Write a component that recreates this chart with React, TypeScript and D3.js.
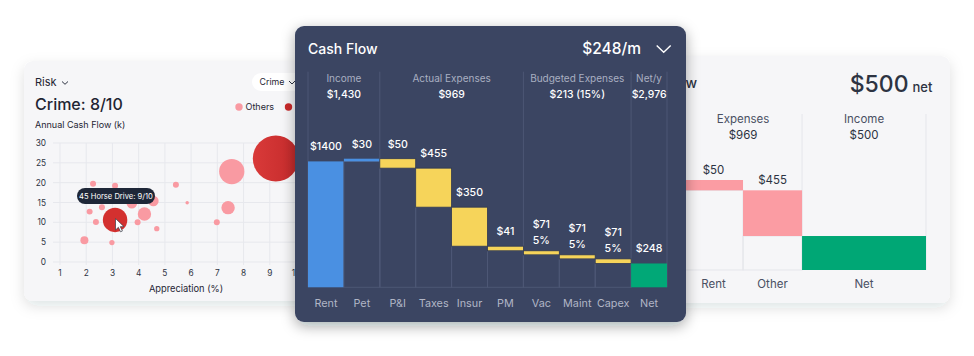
import React from "react";
import * as d3 from "d3";

const FONT = "Inter, 'Noto Sans', sans-serif";

// ---------- Left card: risk scatter ----------
const bubbleX = [9.23, 7.55, 7.41, 6.98, 5.85, 5.42, 4.56, 4.22, 3.74, 4.69, 3.96, 3.1, 3.1, 2.26, 2.6, 2.13, 2.37, 1.93, 2.98];
const bubbleY = [26.1, 22.8, 13.7, 10.0, 14.95, 19.5, 15.4, 12.1, 14.8, 8.4, 10.0, 10.6, 19.2, 19.7, 13.8, 12.7, 10.1, 5.5, 4.9];
const bubbleSize = [530, 160, 45, 9, 3, 9, 28, 45, 28, 7, 9, 150, 9, 9, 9, 9, 9, 16, 7];
const bubbleGroup = ["Selected", "Others", "Others", "Others", "Others", "Others", "Others", "Others", "Others", "Others", "Others", "Selected", "Others", "Others", "Others", "Others", "Others", "Others", "Others"];
const xTicks = [1, 2, 3, 4, 5, 6, 7, 8, 9, 10];
const yTicks = [0, 5, 10, 15, 20, 25, 30];

// ---------- Middle card: cash flow waterfall ----------
const flowCategories = ["Rent", "Pet", "P&I", "Taxes", "Insur", "PM", "Vac", "Maint", "Capex", "Net"];
const flowKinds = ["income", "income", "expense", "expense", "expense", "expense", "budget", "budget", "budget", "net"];
const flowBarValues = [1400, 30, 105, 434, 434, 51, 45, 45, 51, 265];
const flowLabels = ["$1400", "$30", "$50", "$455", "$350", "$41", "$71", "$71", "$71", "$248"];
const flowSubLabels = ["", "", "", "", "", "", "5%", "5%", "5%", ""];
const flowGroups = ["Income", "Actual Expenses", "Budgeted Expenses", "Net/y"];
const flowGroupValues = ["$1,430", "$969", "$213 (15%)", "$2,976"];
const flowGroupSpans = [2, 4, 3, 1];

// ---------- Right card: net waterfall ----------
const netCategories = ["Rent", "Other", "Net"];
const netKinds = ["expense", "expense", "net"];
const netColumnSpans = [1, 1, 2.1];
const netStartLevel = 1430;
const netBarValues = [164, 726, 540];
const netLabels = ["$50", "$455", ""];
const netGroups = ["Expenses", "Income"];
const netGroupValues = ["$969", "$500"];
const netGroupSpans = [2, 1];

type Bar = { cat: string; kind: string; lo: number; hi: number; label: string; sub: string };

function waterfall(cats: string[], kinds: string[], vals: number[], start: number, labels: string[], subs: string[]): Bar[] {
  let level = start;
  return cats.map((c, i) => {
    const v = vals[i];
    let lo = 0, hi = 0;
    if (kinds[i] === "income") { lo = level; hi = level + v; level = hi; }
    else if (kinds[i] === "net") { lo = 0; hi = v; }
    else { hi = level; lo = level - v; level = lo; }
    return { cat: c, kind: kinds[i], lo, hi, label: labels[i], sub: subs[i] };
  });
}

export default function App() {
  // left scales
  const sx = d3.scaleLinear().domain([1, 10]).range([60, 296]);
  const sy = d3.scaleLinear().domain([0, 30]).range([262, 143]);
  const sr = d3.scaleSqrt().domain([0, d3.max(bubbleSize) as number]).range([0, 23]);
  const bubbles = bubbleX.map((x, i) => ({ x, y: bubbleY[i], s: bubbleSize[i], g: bubbleGroup[i] }));

  // middle scales
  const fx = d3.scaleBand().domain(flowCategories).range([308, 667]).paddingInner(0).paddingOuter(0);
  const incomeTotal = d3.sum(flowBarValues.filter((_, i) => flowKinds[i] === "income"));
  const fy = d3.scaleLinear().domain([0, incomeTotal]).range([287.3, 158.7]);
  const flowBars = waterfall(flowCategories, flowKinds, flowBarValues, 0, flowLabels, flowSubLabels);
  const flowColor: Record<string, string> = { income: "#4a90e2", expense: "#f6d45a", budget: "#f6d45a", net: "#01a877" };
  const groupBounds: number[] = [];
  let acc = 0;
  groupBounds.push(fx(flowCategories[0]) as number);
  flowGroupSpans.forEach((s) => { acc += s; groupBounds.push((fx(flowCategories[acc - 1]) as number) + fx.bandwidth()); });

  // right scales
  const totalSpan = d3.sum(netColumnSpans);
  const nx = d3.scaleLinear().domain([0, totalSpan]).range([684, 926]);
  const ny = d3.scaleLinear().domain([0, netStartLevel]).range([270, 180]);
  const netBars = waterfall(netCategories, netKinds, netBarValues, netStartLevel, netLabels, ["", "", ""]);
  const netCum = d3.cumsum([0, ...netColumnSpans]);
  const netGroupCum = d3.cumsum([0, ...netGroupSpans]);

  const midLine = "#4d5775";
  const lightLine = "#e5e6eb";

  return (
    <svg width={974} height={356} style={{ position: "absolute", left: 0, top: 0, fontFamily: FONT }}>
      <defs>
        <filter id="lightShadow" x="-20%" y="-20%" width="140%" height="150%">
          <feDropShadow dx="0" dy="5" stdDeviation="7" floodColor="#1b2233" floodOpacity="0.13" />
        </filter>
        <filter id="darkShadow" x="-20%" y="-20%" width="140%" height="150%">
          <feDropShadow dx="0" dy="4" stdDeviation="7" floodColor="#0c1220" floodOpacity="0.35" />
        </filter>
        <linearGradient id="bigRed" x1="0" x2="1" y1="0" y2="0">
          <stop offset="0%" stopColor="#d93a39" />
          <stop offset="100%" stopColor="#c42a2b" />
        </linearGradient>
      </defs>

      {/* ---------------- Left card ---------------- */}
      <rect x={24} y={61} width={400} height={240} rx={9} fill="#f6f6f8" filter="url(#lightShadow)" />
      <text x={35} y={86} fontSize={11} fill="#1f2533">Risk</text>
      <path d="M62,81.5 L65,84.3 L68,81.5" fill="none" stroke="#2d3342" strokeWidth={1} />
      <text x={35} y={110} fontSize={16} fontWeight={500} fill="#1f2533">Crime: 8/10</text>
      <text x={35} y={127.5} fontSize={9} fill="#1f2533">Annual Cash Flow (k)</text>

      <rect x={252} y={73} width={70} height={18} rx={9} fill="#ffffff" />
      <text x={259.5} y={85.3} fontSize={8.8} fill="#1f2533">Crime</text>
      <path d="M289,81 L292,84 L295,81" fill="none" stroke="#2d3342" strokeWidth={1} />

      <circle cx={239} cy={107} r={3.7} fill="#f99aa2" />
      <text x={245.5} y={110} fontSize={9} fill="#1f2533">Others</text>
      <circle cx={288.5} cy={107} r={3.7} fill="#c9292a" />

      {yTicks.map((t) => (
        <g key={"yg" + t}>
          <line x1={53} x2={420} y1={sy(t)} y2={sy(t)} stroke="#e7e8ed" strokeWidth={1} />
          <text x={46} y={sy(t) + 3} fontSize={8.3} textAnchor="end" fill="#2d3342">{t}</text>
        </g>
      ))}
      {xTicks.map((t) => (
        <g key={"xg" + t}>
          <line x1={sx(t)} x2={sx(t)} y1={143} y2={265} stroke="#e7e8ed" strokeWidth={1} />
          <text x={sx(t)} y={275.5} fontSize={8.3} textAnchor="middle" fill="#2d3342">{t}</text>
        </g>
      ))}
      <text x={186} y={291.5} fontSize={9.3} textAnchor="middle" fill="#1f2533">Appreciation (%)</text>

      {bubbles.map((b, i) => (
        <circle key={"b" + i} cx={sx(b.x)} cy={sy(b.y)} r={sr(b.s)}
          fill={b.g === "Selected" ? (i === 0 ? "url(#bigRed)" : "#d3302f") : "#f99aa2"} />
      ))}

      <rect x={77} y={188} width={78} height={16} rx={8} fill="#1e2738" />
      <text x={116} y={198.8} fontSize={7.6} textAnchor="middle" fill="#ffffff">45 Horse Drive: 9/10</text>
      <path transform="translate(115.5,218.5) scale(0.72)" d="M0,0 L0,16 L4,12.2 L7,18.5 L9.6,17.4 L6.7,11.3 L11.8,11.3 Z"
        fill="#ffffff" stroke="#3a3f4a" strokeWidth={1} strokeLinejoin="round" />

      {/* ---------------- Right card ---------------- */}
      <rect x={560} y={56} width={390} height={247} rx={9} fill="#f6f6f8" filter="url(#lightShadow)" />
      <text x={697} y={87.5} fontSize={14} fontWeight={500} textAnchor="end" fill="#2d3342">Cash Flow</text>
      <text x={908.5} y={91.5} fontSize={23} fontWeight={500} textAnchor="end" fill="#2d3342">$500</text>
      <text x={912.5} y={91.5} fontSize={13} fontWeight={500} fill="#2d3342">net</text>

      {netGroups.map((g, gi) => {
        const a = nx(netCum[netGroupCum[gi]]);
        const b = nx(netCum[netGroupCum[gi + 1]]);
        const cx = (a + b) / 2;
        return (
          <g key={"ng" + gi}>
            <text x={cx} y={122.5} fontSize={11.5} textAnchor="middle" fill="#4a5063">{g}</text>
            <text x={cx} y={139.3} fontSize={11.5} textAnchor="middle" fill="#2d3342">{netGroupValues[gi]}</text>
            <line x1={b} x2={b} y1={114} y2={270} stroke={lightLine} strokeWidth={1} />
          </g>
        );
      })}
      {netBars.map((b, i) => {
        const x0 = nx(netCum[i]);
        const x1 = nx(netCum[i + 1]);
        return (
          <g key={"nb" + i}>
            <rect x={x0} y={ny(b.lo)} width={x1 - x0} height={ny(0) - ny(b.lo)} fill="none" stroke={lightLine} strokeWidth={1} />
            <rect x={x0} y={ny(b.hi)} width={x1 - x0} height={ny(b.lo) - ny(b.hi)} fill={b.kind === "net" ? "#00a775" : "#fb9ca3"} />
            {b.label && <text x={(x0 + x1) / 2} y={ny(b.hi) - 6.5} fontSize={11.5} textAnchor="middle" fill="#2d3342">{b.label}</text>}
            <text x={(x0 + x1) / 2} y={287.5} fontSize={11.5} textAnchor="middle" fill="#4a5063">{b.cat}</text>
          </g>
        );
      })}

      {/* ---------------- Middle card ---------------- */}
      <rect x={295} y={26} width={391} height={296} rx={9} fill="#3b4562" filter="url(#darkShadow)" />
      <text x={308} y={53.5} fontSize={14} fontWeight={500} fill="#ffffff">Cash Flow</text>
      <text x={641} y={54} fontSize={15.5} fontWeight={500} textAnchor="end" fill="#ffffff">$248/m</text>
      <path d="M656.7,45.5 L663.7,52.3 L670.7,45.5" fill="none" stroke="#ffffff" strokeWidth={1.4} />

      {groupBounds.map((gx, i) => (
        <line key={"gb" + i} x1={gx} x2={gx} y1={71.7} y2={287.3} stroke={midLine} strokeWidth={1} />
      ))}
      {flowGroups.map((g, i) => {
        const cx = (groupBounds[i] + groupBounds[i + 1]) / 2;
        return (
          <g key={"fg" + i}>
            <text x={cx} y={81.8} fontSize={10} textAnchor="middle" fill="#a9afc1">{g}</text>
            <text x={cx} y={97.5} fontSize={10.4} fontWeight={500} textAnchor="middle" fill="#ffffff">{flowGroupValues[i]}</text>
          </g>
        );
      })}
      {flowBars.map((b, i) => {
        const x0 = fx(b.cat) as number;
        const w = fx.bandwidth();
        const top = fy(b.hi);
        const cx = x0 + w / 2;
        return (
          <g key={"fb" + i}>
            <rect x={x0} y={fy(b.lo)} width={w} height={fy(0) - fy(b.lo)} fill="none" stroke={midLine} strokeWidth={1} />
            <rect x={x0} y={top} width={w} height={fy(b.lo) - top} fill={flowColor[b.kind]}
              stroke={b.kind === "expense" || b.kind === "budget" ? "#2e3751" : "none"} strokeWidth={0.8} />
            {b.sub ? (
              <>
                <text x={cx} y={top - 23} fontSize={10.6} fontWeight={500} textAnchor="middle" fill="#ffffff">{b.label}</text>
                <text x={cx} y={top - 7} fontSize={10.6} fontWeight={500} textAnchor="middle" fill="#ffffff">{b.sub}</text>
              </>
            ) : (
              <text x={cx} y={top - 11} fontSize={10.6} fontWeight={500} textAnchor="middle" fill="#ffffff">{b.label}</text>
            )}
            <text x={cx} y={307.3} fontSize={10.8} textAnchor="middle" fill="#b1b6c6">{b.cat}</text>
          </g>
        );
      })}
    </svg>
  );
}
